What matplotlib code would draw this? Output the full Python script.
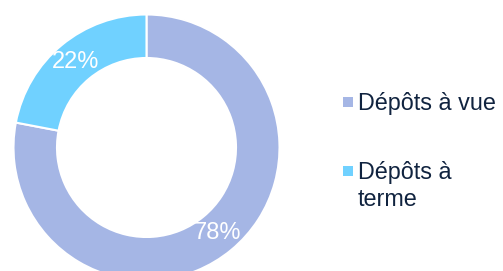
import matplotlib.pyplot as plt

labels = ["Dépôts à vue", "Dépôts à\nterme"]
values = [78, 22]
colors = ["#A5B6E5", "#70D1FF"]

plt.rcParams['font.family'] = ['Liberation Sans', 'DejaVu Sans']

fig = plt.figure(figsize=(5.03, 2.71), dpi=100)

# donut: centre (146.5, 147.5) px from top-left, outer radius 133 px
ax = fig.add_axes([13.5 / 503, -9.5 / 271, 266 / 503, 266 / 271])
wedges, texts, autotexts = ax.pie(
    values, colors=colors, startangle=90, counterclock=False,
    autopct='%.0f%%', pctdistance=0.835,
    wedgeprops=dict(width=0.327, edgecolor="white", linewidth=1.5),
    textprops=dict(color="white", fontsize=17))
ax.set_xlim(-1, 1)
ax.set_ylim(-1, 1)
ax.set_aspect("equal")

# legend drawn by hand so markers sit on the first line of text
lax = fig.add_axes([0, 0, 1, 1])
lax.set_xlim(0, 503)
lax.set_ylim(271, 0)
lax.axis("off")
ys = [102, 171]
for lab, c, y in zip(labels, colors, ys):
    lax.scatter([348], [y], marker="s", s=50, color=c, linewidths=0)
    lax.text(358, y - 10, lab, color="#10233F", fontsize=16.8,
             va="top", ha="left", linespacing=1.2)

fig.savefig("out.png", dpi=100)
